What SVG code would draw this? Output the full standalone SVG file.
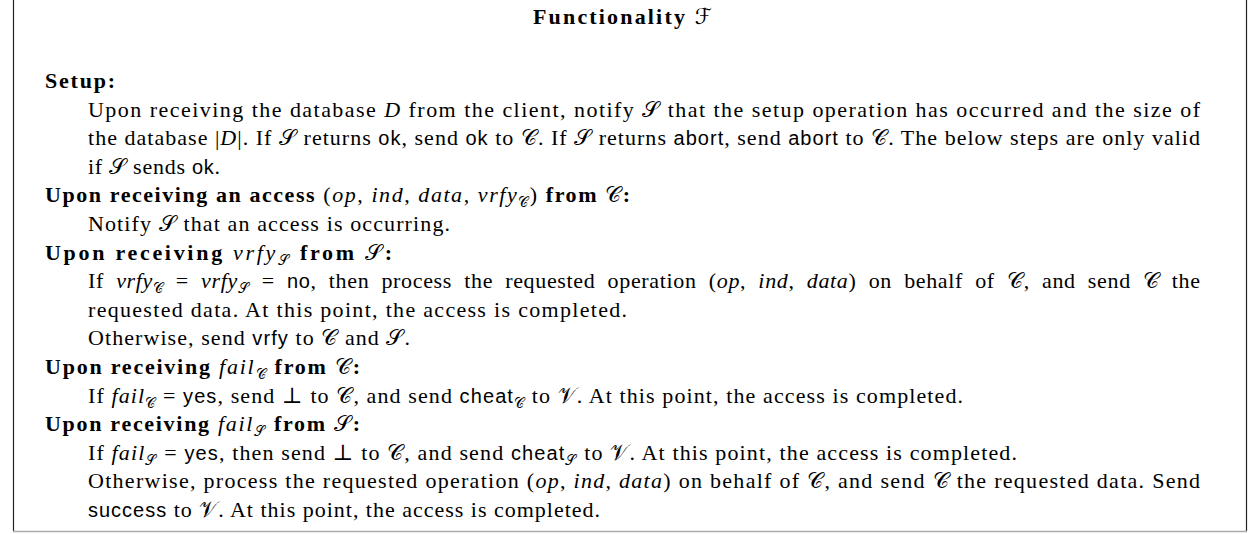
<svg xmlns="http://www.w3.org/2000/svg" width="1250" height="534" viewBox="0 0 1250 534">
<style>
text { font-family: "Liberation Serif", "DejaVu Serif", serif; font-size: 22px; fill: #000; }
.b { font-weight: bold; }
.i { font-style: italic; }
.sf { font-family: "Liberation Sans", "DejaVu Sans", sans-serif; font-size: 20px; }
.cal { font-family: "DejaVu Serif", "DejaVu Sans", "Noto Sans", serif; font-style: normal; font-weight: normal; }
.sub { font-size: 14px; }
.side { fill: none; stroke: #222; stroke-width: 1.2; }
.base { fill: none; stroke: #aaa; stroke-width: 1.6; }
</style>
<rect width="1250" height="534" fill="#fff"/>
<g id="frame">
  <path class="side" d="M13.5,0 V531 M1246.5,0 V531"/>
  <path class="base" d="M13,531.5 H1247"/>
</g>
<g id="title">
  <text x="533" y="24" textLength="179" lengthAdjust="spacing" class="b">Functionality <tspan class="cal">ℱ</tspan></text>
</g>
<g id="setup">
  <text x="45" y="88" textLength="70" lengthAdjust="spacing" class="b">Setup:</text>
  <text x="88" y="116.6" textLength="1112" lengthAdjust="spacing">Upon receiving the database <tspan class="i">D</tspan> from the client, notify <tspan class="cal">𝒮</tspan> that the setup operation has occurred and the size of</text>
  <text x="88" y="145.2" textLength="1112" lengthAdjust="spacing">the database |<tspan class="i">D</tspan>|. If <tspan class="cal">𝒮</tspan> returns <tspan class="sf">ok</tspan>, send <tspan class="sf">ok</tspan> to <tspan class="cal">𝒞</tspan>. If <tspan class="cal">𝒮</tspan> returns <tspan class="sf">abort</tspan>, send <tspan class="sf">abort</tspan> to <tspan class="cal">𝒞</tspan>. The below steps are only valid</text>
  <text x="88" y="173.8" textLength="132" lengthAdjust="spacing">if <tspan class="cal">𝒮</tspan> sends <tspan class="sf">ok</tspan>.</text>
</g>
<g id="access">
  <text x="45" y="202.4" textLength="585" lengthAdjust="spacing"><tspan class="b">Upon receiving an access</tspan> (<tspan class="i">op</tspan>, <tspan class="i">ind</tspan>, <tspan class="i">data</tspan>, <tspan class="i">vrfy</tspan><tspan class="cal sub" dy="5">𝒞</tspan><tspan dy="-5">) </tspan><tspan class="b">from </tspan><tspan class="cal">𝒞</tspan><tspan class="b">:</tspan></text>
  <text x="88" y="231" textLength="362" lengthAdjust="spacing">Notify <tspan class="cal">𝒮</tspan> that an access is occurring.</text>
</g>
<g id="vrfy">
  <text x="45" y="259.6" textLength="347" lengthAdjust="spacing"><tspan class="b">Upon receiving </tspan><tspan class="i">vrfy</tspan><tspan class="cal sub" dy="5">𝒮</tspan><tspan class="b" dy="-5"> from </tspan><tspan class="cal">𝒮</tspan><tspan class="b">:</tspan></text>
  <text x="88" y="288.2" textLength="1112" lengthAdjust="spacing" word-spacing="6">If <tspan class="i">vrfy</tspan><tspan class="cal sub" dy="5">𝒞</tspan><tspan dy="-5"> = </tspan><tspan class="i">vrfy</tspan><tspan class="cal sub" dy="5">𝒮</tspan><tspan dy="-5"> = </tspan><tspan class="sf">no</tspan>, then process the requested operation (<tspan class="i">op</tspan>, <tspan class="i">ind</tspan>, <tspan class="i">data</tspan>) on behalf of <tspan class="cal">𝒞</tspan>, and send <tspan class="cal">𝒞</tspan> the</text>
  <text x="88" y="316.8" textLength="539" lengthAdjust="spacing">requested data. At this point, the access is completed.</text>
  <text x="88" y="345.4" textLength="322" lengthAdjust="spacing">Otherwise, send <tspan class="sf">vrfy</tspan> to <tspan class="cal">𝒞</tspan> and <tspan class="cal">𝒮</tspan>.</text>
</g>
<g id="failC">
  <text x="45" y="374" textLength="315" lengthAdjust="spacing"><tspan class="b">Upon receiving </tspan><tspan class="i">fail</tspan><tspan class="cal sub" dy="5">𝒞</tspan><tspan class="b" dy="-5"> from </tspan><tspan class="cal">𝒞</tspan><tspan class="b">:</tspan></text>
  <text x="88" y="402.6" textLength="875" lengthAdjust="spacing">If <tspan class="i">fail</tspan><tspan class="cal sub" dy="5">𝒞</tspan><tspan dy="-5"> = </tspan><tspan class="sf">yes</tspan>, send ⊥ to <tspan class="cal">𝒞</tspan>, and send <tspan class="sf">cheat</tspan><tspan class="cal sub" dy="5">𝒞</tspan><tspan dy="-5"> to </tspan><tspan class="cal">𝒱</tspan>. At this point, the access is completed.</text>
</g>
<g id="failS">
  <text x="45" y="431.2" textLength="315" lengthAdjust="spacing"><tspan class="b">Upon receiving </tspan><tspan class="i">fail</tspan><tspan class="cal sub" dy="5">𝒮</tspan><tspan class="b" dy="-5"> from </tspan><tspan class="cal">𝒮</tspan><tspan class="b">:</tspan></text>
  <text x="88" y="459.8" textLength="929" lengthAdjust="spacing">If <tspan class="i">fail</tspan><tspan class="cal sub" dy="5">𝒮</tspan><tspan dy="-5"> = </tspan><tspan class="sf">yes</tspan>, then send ⊥ to <tspan class="cal">𝒞</tspan>, and send <tspan class="sf">cheat</tspan><tspan class="cal sub" dy="5">𝒮</tspan><tspan dy="-5"> to </tspan><tspan class="cal">𝒱</tspan>. At this point, the access is completed.</text>
  <text x="88" y="488.4" textLength="1112" lengthAdjust="spacing">Otherwise, process the requested operation (<tspan class="i">op</tspan>, <tspan class="i">ind</tspan>, <tspan class="i">data</tspan>) on behalf of <tspan class="cal">𝒞</tspan>, and send <tspan class="cal">𝒞</tspan> the requested data. Send</text>
  <text x="88" y="517" textLength="512" lengthAdjust="spacing"><tspan class="sf">success</tspan> to <tspan class="cal">𝒱</tspan>. At this point, the access is completed.</text>
</g>
</svg>
